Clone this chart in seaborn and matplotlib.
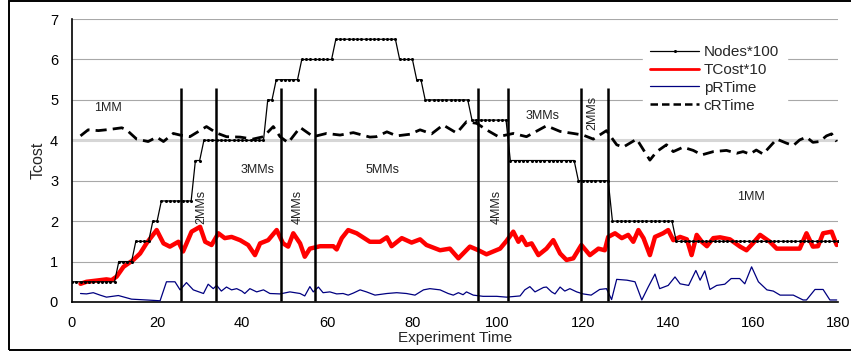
import numpy as np
import pandas as pd
import matplotlib
matplotlib.use("Agg")
import matplotlib.pyplot as plt
import seaborn as sns
from matplotlib.patches import Rectangle

# ---------------- data ----------------
# Nodes*100: step levels and how many integer time samples each lasts (0..180)
nodes_levels = [0.5, 1.0, 1.5, 2.0, 2.5, 3.5, 4.0, 5.0, 5.5, 6.0, 6.5, 6.0, 5.5, 5.0, 4.5, 3.5, 3.0, 2.0, 1.5]
nodes_counts = [11, 4, 4, 2, 8, 2, 15, 2, 6, 8, 15, 4, 2, 11, 9, 16, 8, 15, 39]

tcost_x = [2, 3.4, 5.8, 8.1, 9.3, 10.5, 12.1, 14.4, 16, 17.5, 19.9, 21.5, 23, 25, 26.1, 28.1, 30.1, 31.3,
           32.8, 34.4, 35.9, 37.5, 39.5, 41.4, 43, 44.2, 46.1, 48.1, 49.6, 50.8, 52, 53.6, 54.7, 55.9,
           58.3, 61.4, 62.2, 63.4, 64.9, 66.9, 70, 72.4, 74, 75.1, 77.5, 79.8, 81.8, 83.3, 86.5, 88.8,
           90.8, 93.5, 95.5, 97.4, 100.6, 102.1, 103.7, 104.9, 105.7, 106.8, 108, 109.6, 111.5, 113.1,
           114.7, 116.2, 117.8, 119.7, 121.7, 123.7, 125.2, 126, 127.6, 129.2, 130.7, 131.9, 133.1, 134.3,
           135.8, 137, 138.9, 140.1, 141.3, 142.9, 144.5, 145.6, 146.8, 148, 149.2, 150.7, 152.3, 154.6,
           157, 158.5, 160, 161.7, 164, 165.6, 167.9, 171, 172.6, 174.1, 175.3, 176.5, 178.5, 179.7]
tcost_y = [0.45, 0.50, 0.53, 0.56, 0.54, 0.63, 0.87, 1.04, 1.20, 1.45, 1.78, 1.45, 1.37, 1.49, 1.25, 1.74, 1.86, 1.49,
           1.41, 1.70, 1.58, 1.61, 1.53, 1.41, 1.16, 1.45, 1.53, 1.78, 1.45, 1.37, 1.70, 1.45, 1.12, 1.32,
           1.38, 1.38, 1.30, 1.58, 1.78, 1.70, 1.49, 1.49, 1.60, 1.38, 1.58, 1.47, 1.55, 1.41, 1.28, 1.32,
           1.08, 1.37, 1.28, 1.18, 1.32, 1.51, 1.74, 1.49, 1.61, 1.41, 1.45, 1.16, 1.32, 1.53,
           1.20, 1.04, 1.08, 1.41, 1.16, 1.32, 1.28, 1.61, 1.70, 1.58, 1.66, 1.49, 1.78, 1.58,
           1.16, 1.61, 1.70, 1.78, 1.53, 1.61, 1.55, 1.16, 1.66, 1.49, 1.38, 1.58, 1.60, 1.55,
           1.37, 1.28, 1.45, 1.66, 1.49, 1.32, 1.32, 1.32, 1.70, 1.37, 1.38, 1.70, 1.74, 1.41]

prt_x = [2, 3.4, 5, 6.6, 8.1, 10.9, 14, 17.5, 20.7, 22.2, 24.2, 25.4, 26.9, 28.5, 30.9, 32, 33.2, 34, 35.1,
         36.3, 37.5, 38.7, 39.9, 40.6, 41.8, 43.4, 45, 46.5, 48.9, 51.2, 53.6, 54.7, 55.9, 56.7, 57.9, 59,
         60.6, 62.2, 63.7, 64.9, 66.1, 67.7, 69.2, 71.2, 74, 76.3, 78.6, 80.6, 82.6, 84.1, 86.5, 88.4,
         89.6, 90.8, 91.9, 92.7, 94.3, 96.6, 99.8, 102.1, 105.3, 106.4, 107.6, 108.8, 110.8, 111.5, 112.7,
         113.5, 114.7, 115.8, 117, 118.6, 120.1, 122, 124, 125.6, 126.8, 128, 130.4, 132.3, 133.9, 135.4,
         137, 138.1, 140.1, 141.7, 142.9, 144.9, 146.6, 147.6, 148.7, 149.9, 151.5, 153.4, 154.9, 156.9,
         158.1, 159.7, 161.3, 163.3, 164.8, 166.4, 169.5, 171.8, 172.6, 174.6, 176.5, 178.1, 179.7]
prt_y = [0.21, 0.20, 0.23, 0.17, 0.12, 0.16, 0.07, 0.05, 0.03, 0.50, 0.50, 0.30, 0.48, 0.30, 0.21, 0.44, 0.33, 0.41, 0.27,
         0.37, 0.30, 0.33, 0.27, 0.21, 0.33, 0.25, 0.30, 0.21, 0.20, 0.25, 0.21, 0.15, 0.38, 0.25, 0.37, 0.23,
         0.25, 0.20, 0.21, 0.17, 0.22, 0.30, 0.25, 0.17, 0.21, 0.23, 0.21, 0.17, 0.30, 0.33, 0.30, 0.21,
         0.17, 0.23, 0.18, 0.25, 0.17, 0.14, 0.14, 0.12, 0.15, 0.30, 0.38, 0.25, 0.36, 0.37, 0.25,
         0.20, 0.37, 0.27, 0.33, 0.25, 0.20, 0.17, 0.31, 0.33, 0.06, 0.56, 0.54, 0.50, 0.05, 0.37,
         0.69, 0.33, 0.41, 0.62, 0.45, 0.41, 0.78, 0.54, 0.77, 0.31, 0.41, 0.44, 0.58, 0.58,
         0.45, 0.87, 0.50, 0.30, 0.27, 0.17, 0.17, 0.05, 0.05, 0.31, 0.31, 0.05, 0.05]

crt_x = [2, 3.8, 6.2, 8.9, 11.7, 12.8, 15.2, 17.9, 19.9, 21.5, 23.8, 25.4, 27.7, 31.6, 34, 36.3, 39.5, 42.5,
         45, 47.3, 48.9, 50.8, 53.6, 56.7, 59.8, 63, 66.1, 70, 71.5, 74, 76.3, 79.4, 81.8, 84.5, 87.2, 90.4,
         92.7, 95.1, 97.4, 100.2, 103.7, 106.8, 111.5, 114.7, 117.8, 120.1, 122.5, 125.6, 128, 129.5, 132.7,
         135.8, 137.4, 139.7, 141.3, 143.6, 146, 148, 150.7, 153.8, 156.2, 157.7, 159.3, 160.8, 162.4,
         165.6, 167.9, 169.5, 171, 172.6, 174.1, 175.7, 177.3, 178.5, 179.7]
crt_y = [4.11, 4.26, 4.24, 4.27, 4.31, 4.26, 4.03, 3.97, 4.08, 3.97, 4.17, 4.13, 4.09, 4.34, 4.18, 4.09, 4.08, 4.03,
         4.09, 4.34, 4.09, 3.94, 4.32, 4.09, 4.17, 4.13, 4.19, 4.08, 4.09, 4.21, 4.11, 4.15, 4.26, 4.16, 4.38, 4.18,
         4.46, 4.42, 4.26, 4.09, 4.17, 4.09, 4.36, 4.22, 4.17, 4.13, 4.03, 4.24, 3.89, 3.83, 4.03,
         3.51, 3.72, 3.89, 3.72, 3.83, 3.75, 3.64, 3.72, 3.75, 3.68, 3.72, 3.66, 3.76, 3.66,
         4.03, 3.93, 3.87, 4.01, 4.08, 3.95, 3.97, 4.11, 4.16, 3.97]

# Phase boundaries and annotations
phase_x = [25.5, 33.8, 49.2, 57.0, 95.5, 102.5, 119.7, 126.0]
labels_h = [("1MM", 8.5, 4.8), ("3MMs", 43.5, 3.27), ("5MMs", 73.0, 3.27), ("3MMs", 110.5, 4.6), ("1MM", 159.5, 2.6)]
labels_v = [("2MMs", 30.3, 2.35), ("4MMs", 53.0, 2.35), ("4MMs", 99.8, 2.35), ("2MMs", 122.3, 4.68)]

# ---------------- plot ----------------
sns.set_style("white")
plt.rcParams['font.family'] = ['Liberation Sans', 'DejaVu Sans']

fig = plt.figure(figsize=(8.51, 3.53), dpi=100)
ax = fig.add_axes([0.0846, 0.1445, 0.9001, 0.8015])

nodes_t = np.arange(181)
nodes_v = np.repeat(nodes_levels, nodes_counts)

for yv in range(1, 8):
    ax.axhline(yv, color='#d6d6d6' if yv == 4 else '#a8a8a8',
               lw=2.2 if yv == 4 else 0.8, zorder=0)

sns.lineplot(x=crt_x, y=crt_y, ax=ax, color='black', lw=2.0, linestyle=(0, (4, 2.2)),
             label='cRTime', zorder=3)
sns.lineplot(x=prt_x, y=prt_y, ax=ax, color='#000080', lw=0.9, label='pRTime', zorder=3)
sns.lineplot(x=tcost_x, y=tcost_y, ax=ax, color='#ff0000', lw=3.2, label='TCost*10', zorder=4)
sns.lineplot(x=nodes_t, y=nodes_v, ax=ax, color='black', lw=0.9, marker='o', markersize=2.2,
             markeredgewidth=0, label='Nodes*100', zorder=5)

ax.vlines(phase_x, 0.03, 5.3, colors='black', lw=1.8, zorder=6)

for txt, x, y in labels_h:
    ax.text(x, y, txt, fontsize=9, ha='center', va='center', color='#222222', zorder=7)
for txt, x, y in labels_v:
    ax.text(x, y, txt, fontsize=9, ha='center', va='center', rotation=90, color='#222222', zorder=7)

ax.set_xlim(0, 180)
ax.set_ylim(0, 7)
ax.set_xticks(range(0, 181, 20))
ax.set_yticks(range(0, 8))
ax.tick_params(axis='both', direction='out', length=4, width=0.8, labelsize=10.5,
               colors='black', pad=6)
for s in ['top', 'right']:
    ax.spines[s].set_visible(False)
for s in ['left', 'bottom']:
    ax.spines[s].set_color('black')
    ax.spines[s].set_linewidth(1.2)
ax.set_xlabel('Experiment Time', fontsize=11, labelpad=1)
ax.set_ylabel('Tcost', fontsize=11.5, labelpad=3)

handles, labels = ax.get_legend_handles_labels()
order = [labels.index(l) for l in ['Nodes*100', 'TCost*10', 'pRTime', 'cRTime']]
leg = ax.legend([handles[i] for i in order], [labels[i] for i in order],
                loc='upper left', bbox_to_anchor=(0.745, 0.935), frameon=True,
                fontsize=11, handlelength=3.2, labelspacing=0.25, borderpad=0.5,
                handletextpad=0.3, borderaxespad=0)
leg.get_frame().set_facecolor('white')
leg.get_frame().set_edgecolor('white')
leg.get_frame().set_alpha(1)
leg.set_zorder(10)
leg_lines = leg.get_lines()
leg_lines[1].set_linewidth(2.0)
leg_lines[3].set_linewidth(1.8)
leg_lines[3].set_linestyle((0, (3, 1.6)))

fig.patches.append(Rectangle((0.0106, 0.0085), 1.05, 0.9875, transform=fig.transFigure,
                             fill=False, edgecolor='black', lw=1.4))

fig.savefig('out.png', dpi=100)
